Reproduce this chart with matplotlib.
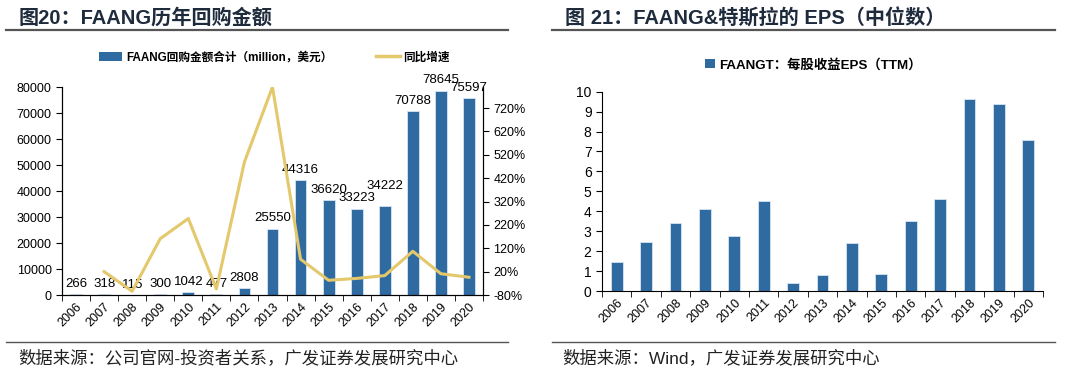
import matplotlib.pyplot as plt
from matplotlib.patches import Patch
from matplotlib.lines import Line2D
import numpy as np

plt.rcParams['font.family'] = ['Liberation Sans', 'Noto Sans CJK SC', 'DejaVu Sans']

years = ['2006', '2007', '2008', '2009', '2010', '2011', '2012', '2013',
         '2014', '2015', '2016', '2017', '2018', '2019', '2020']
buyback = [266, 318, 115, 300, 1042, 477, 2808, 25550,
           44316, 36620, 33223, 34222, 70788, 78645, 75597]
# 同比增速 (%), 2006 无数据
growth = [np.nan, 20, -64, 161, 247, -54, 489, 810,
          73, -17, -9, 3, 107, 11, -4]
eps = [1.44, 2.47, 3.43, 4.13, 2.74, 4.52, 0.40, 0.79,
       2.39, 0.84, 3.50, 4.60, 9.63, 9.38, 7.59]

blue = '#2F6AA1'
gold = '#E3C86C'
dark = '#1E2B3C'

fig = plt.figure(figsize=(10.8, 3.77), dpi=100)
x = np.arange(len(years))

def style_x(ax):
    ax.set_xlim(-0.5, len(years) - 0.5)
    ax.set_xticks(x)
    ax.set_xticklabels(years, rotation=45, ha='right', rotation_mode='anchor', fontsize=9)
    ax.set_xticks(np.arange(-0.5, len(years)), minor=True)
    ax.tick_params(axis='x', which='major', length=0, pad=4)
    ax.tick_params(axis='x', which='minor', length=4, direction='out', color='black')
    ax.spines['top'].set_visible(False)

# ---- 左图 ----
ax1 = fig.add_axes([0.0574, 0.2175, 0.3898, 0.5517])
ax1.bar(x, buyback, width=0.42, color=blue, edgecolor='#D6E4F2', linewidth=0.6, zorder=2)
# 标签上移量 (points), 2017 的标签在原图中抬高了避免重叠
lift = [3, 3, 3, 3, 3, 3, 3, 3, 3, 3, 3, 10, 3, 3, 3]
for xi, v, dy in zip(x, buyback, lift):
    ax1.annotate(str(v), (xi, v), xytext=(0, dy), textcoords='offset points',
                 ha='center', va='bottom', fontsize=9.5, zorder=5, clip_on=False)
ax1.set_ylim(0, 80000)
ax1.set_yticks(range(0, 80001, 10000))
ax1.tick_params(axis='y', labelsize=9, length=4)
style_x(ax1)

ax1b = ax1.twinx()
ax1b.plot(x, growth, color=gold, linewidth=2.2, zorder=3)
ax1b.set_ylim(-80, 810)
ax1b.set_yticks(range(-80, 721, 100))
ax1b.set_yticklabels([f'{t}%' for t in range(-80, 721, 100)])
ax1b.tick_params(axis='y', labelsize=9, length=4)
ax1b.spines['top'].set_visible(False)

ax1.legend(handles=[Patch(facecolor=blue), Line2D([0], [0], color=gold, lw=2.5)],
           labels=['FAANG回购金额合计（million，美元）', '同比增速'],
           ncol=2, frameon=False, loc='center', bbox_to_anchor=(0.254, 0.848),
           bbox_transform=fig.transFigure, prop={'size': 8.4, 'weight': 'bold'},
           handlelength=2.0, handleheight=0.8, columnspacing=3.8, handletextpad=0.3)

# ---- 右图 ----
ax2 = fig.add_axes([0.5574, 0.2281, 0.4083, 0.5287])
ax2.bar(x, eps, width=0.4, color=blue, edgecolor='#D6E4F2', linewidth=0.6)
ax2.set_ylim(0, 10)
ax2.set_yticks(range(0, 11))
ax2.tick_params(axis='y', labelsize=10, length=4)
style_x(ax2)
ax2.spines['right'].set_visible(False)
ax2.legend(handles=[Patch(facecolor=blue)], labels=['FAANGT：每股收益EPS（TTM）'],
           frameon=False, loc='center', bbox_to_anchor=(0.753, 0.828),
           bbox_transform=fig.transFigure, prop={'size': 9.6, 'weight': 'bold'},
           handlelength=0.7, handleheight=0.7, handletextpad=0.3)

# ---- 标题、分隔线、来源 ----
fig.text(0.017, 0.952, '图20：FAANG历年回购金额', fontsize=14.5, fontweight='bold',
         color=dark, va='center')
fig.text(0.523, 0.952, '图 21：FAANG&特斯拉的 EPS（中位数）', fontsize=14.5,
         fontweight='bold', color=dark, va='center')
for x0, x1 in [(0.006, 0.470), (0.511, 0.977)]:
    fig.add_artist(Line2D([x0, x1], [0.920, 0.920], color='#555555', lw=1.6))
    fig.add_artist(Line2D([x0, x1], [0.094, 0.094], color='#555555', lw=1.0))
fig.text(0.017, 0.05, '数据来源：公司官网-投资者关系，广发证券发展研究中心', fontsize=12.5,
         color='#222222', va='center')
fig.text(0.521, 0.05, '数据来源：Wind，广发证券发展研究中心', fontsize=12.5,
         color='#222222', va='center')

fig.savefig('out.png', dpi=100)
